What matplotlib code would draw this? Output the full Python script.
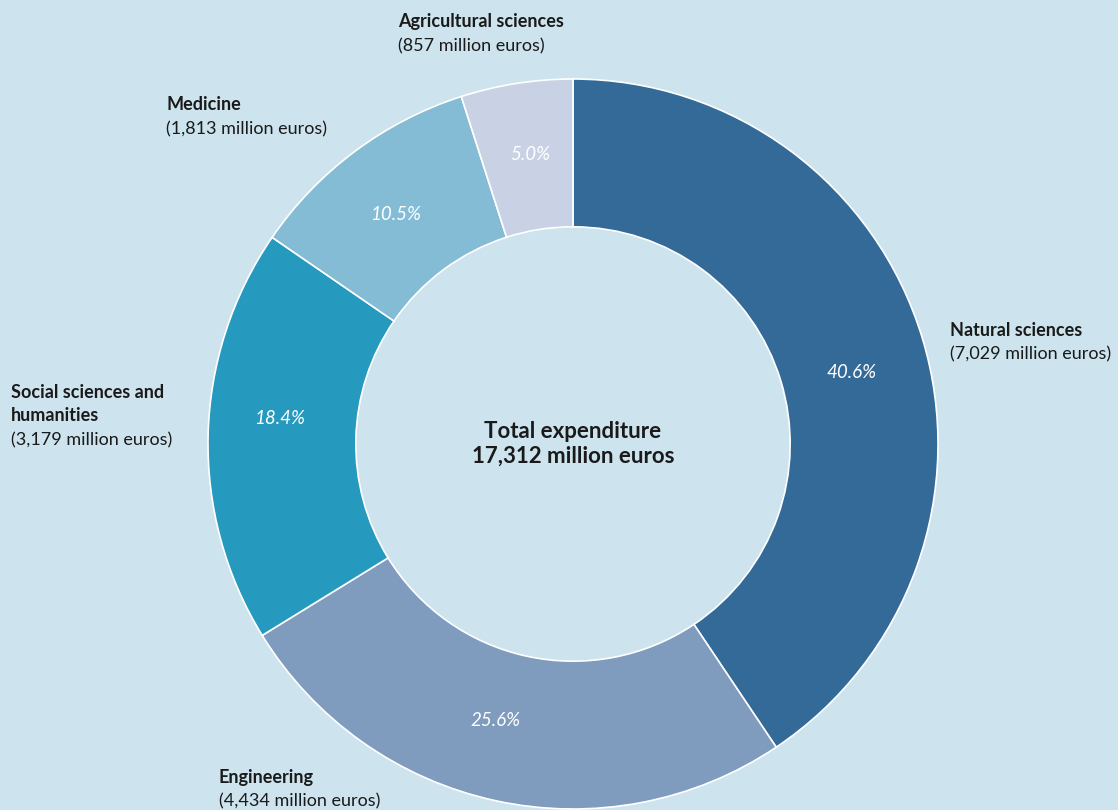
import matplotlib.pyplot as plt

# Ausgaben nach Wissenschaftsbereich (Mio. Euro)
bereiche = ["Natural sciences", "Engineering", "Social sciences and\nhumanities", "Medicine", "Agricultural sciences"]
werte = [7029, 4434, 3179, 1813, 857]
farben = ["#346a98", "#7f9bbe", "#2599be", "#84bcd6", "#c9d2e4"]
bg = "#cde3ed"

plt.rcParams['font.family'] = ['Lato', 'DejaVu Sans']

W, H = 1118, 810
fig = plt.figure(figsize=(W / 100, H / 100), dpi=100, facecolor=bg)
cx, cy, r = 573, 444, 365
ax = fig.add_axes([(cx - r) / W, (H - cy - r) / H, 2 * r / W, 2 * r / H])
ax.set_facecolor(bg)

wedges, texts, autotexts = ax.pie(
    werte, colors=farben, startangle=90, counterclock=False, radius=1,
    wedgeprops=dict(width=0.405, edgecolor="white", linewidth=1.2),
    autopct="%1.1f%%", pctdistance=0.8,
    textprops=dict(color="white", fontsize=13.5, style="italic"))
ax.set_xlim(-1, 1)
ax.set_ylim(-1, 1)
ax.axis("off")

# Prozentangaben etwas verschieben wie im Original (Pixel)
pct_pos = [(852, 373), (496, 720), (280, 419), (396, 215), (530, 154)]
for t, (px, py) in zip(autotexts, pct_pos):
    t.set_position(((px - cx) / r, (cy - py) / r))

fig.text(cx / W, 1 - 432 / H, "Total expenditure", ha="center", va="center",
         fontsize=16, fontweight="bold", color="#1a1a1a")
fig.text(cx / W, 1 - 456 / H, "17,312 million euros", ha="center", va="center",
         fontsize=16, fontweight="bold", color="#1a1a1a")

# Beschriftungen aussen (Pixelposition: links, Mitte erste Zeile)
pos = [(950, 330), (219, 777), (11, 392), (166, 105), (398, 22)]
for namn, v, (x, y) in zip(bereiche, werte, pos):
    rader = namn.split("\n")
    for i, rad in enumerate(rader):
        fig.text(x / W, 1 - (y + 23.5 * i) / H, rad, ha="left", va="center", fontsize=13,
                 fontweight="bold", color="#1a1a1a")
    fig.text(x / W, 1 - (y + 23.5 * len(rader) + 1) / H, f"({v:,} million euros)",
             ha="left", va="center", fontsize=13, color="#1a1a1a")

fig.savefig("out.png", dpi=100, facecolor=bg)
